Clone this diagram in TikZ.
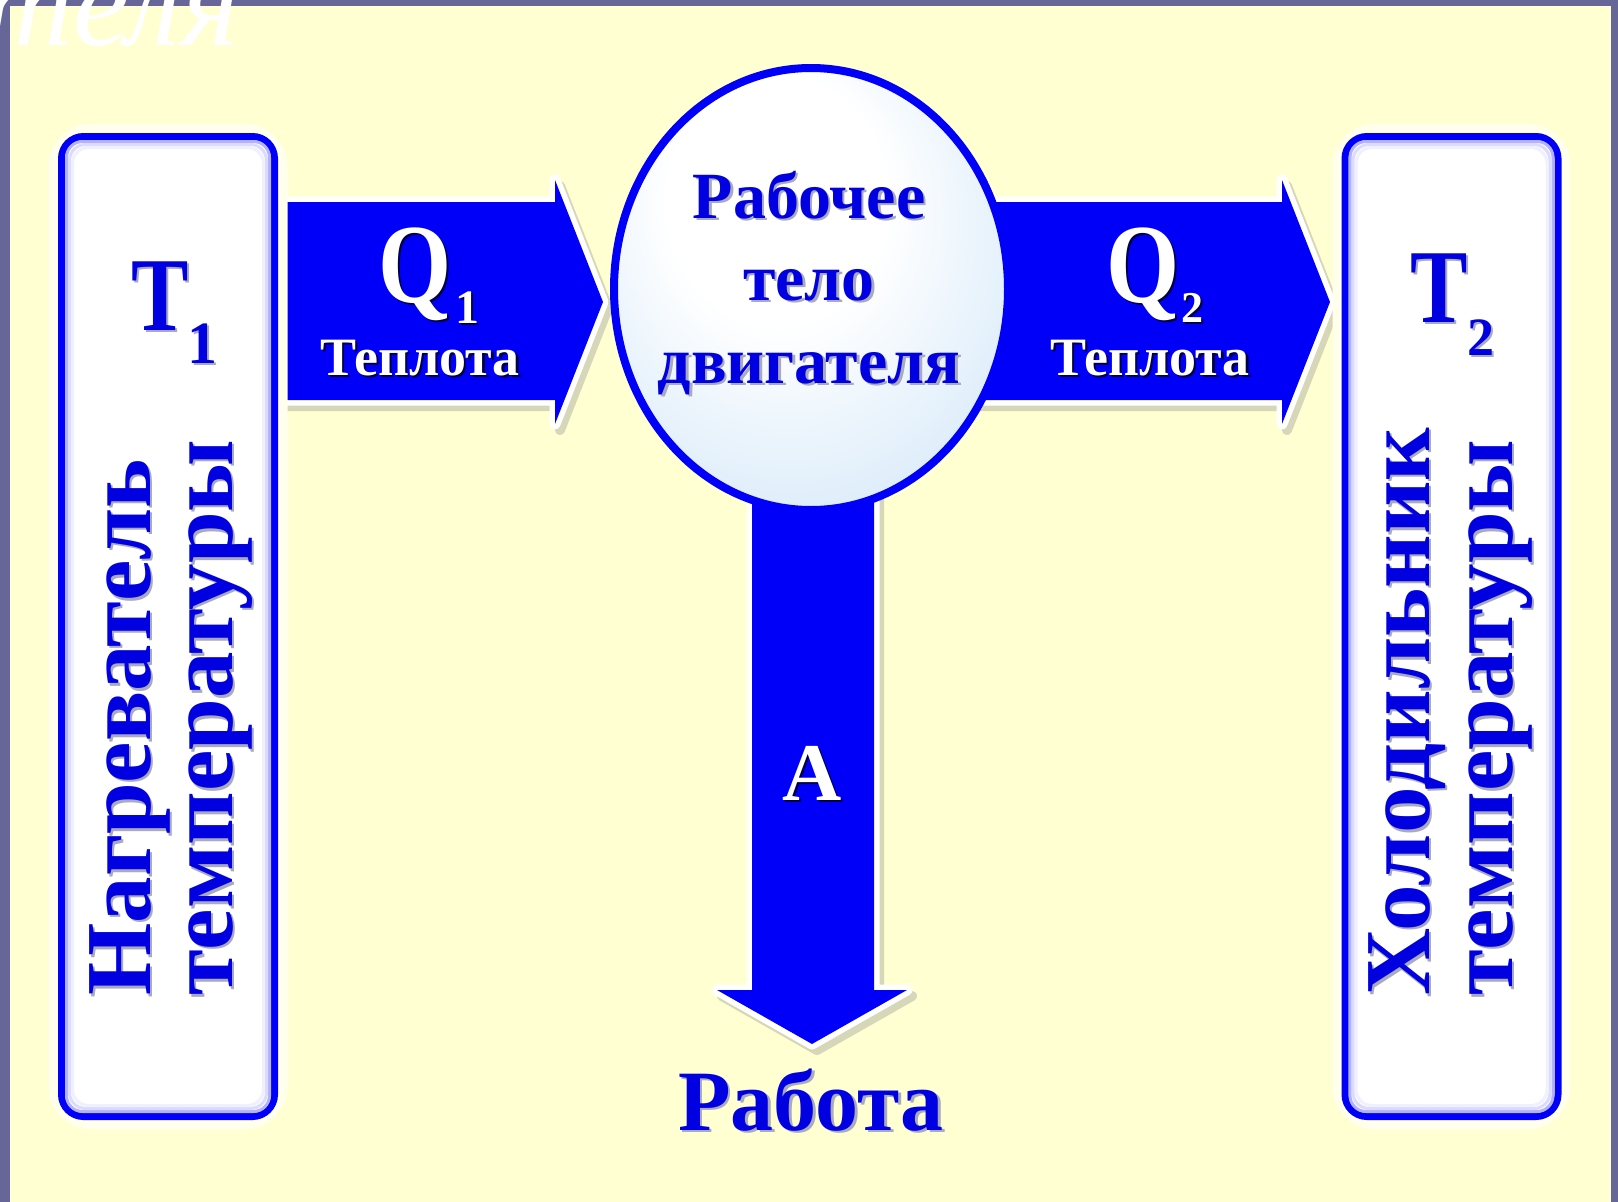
\documentclass[tikz,border=0pt]{standalone}
\usepackage{fontspec}
\setmainfont{Liberation Serif}
\usepackage{graphicx}
\usetikzlibrary{shapes.geometric}
\definecolor{cream}{RGB}{255,255,210}
\definecolor{rimcol}{RGB}{102,102,152}
\definecolor{mblue}{RGB}{0,0,250}
\definecolor{tblue}{RGB}{0,0,225}
\definecolor{shad}{RGB}{214,214,184}
\definecolor{halo}{RGB}{255,255,236}
\definecolor{glassA}{RGB}{212,232,249}
\definecolor{glassB}{RGB}{186,216,243}
\definecolor{tshB}{RGB}{170,170,190}
\definecolor{navyshade}{RGB}{0,0,70}
\pgfdeclareradialshading{glass}{\pgfpoint{-6bp}{14bp}}{color(0bp)=(white); color(14bp)=(white); color(36bp)=(glassA); color(50bp)=(glassB)}
\newcommand{\fsz}[1]{\fontsize{#1}{#1}\selectfont}
% shadowed text node: #1 options, #2 name, #3 position, #4 text, #5 shadow colour
\newcommand{\shnode}[5]{%
  \node[xshift=2.5pt, yshift=-2.5pt, #1, text=#5] (#2-s) at #3 {#4};
  \node[#1] (#2) at #3 {#4};}
\begin{document}
\begin{tikzpicture}[x=1pt,y=-1pt,
  boxst/.style={draw=mblue, line width=7pt, fill=white, rounded corners=22pt,
    minimum width=213pt, minimum height=980pt, inner sep=0pt, outer sep=0pt},
  bt/.style={inner sep=0pt, text=tblue, font={\bfseries\fsz{#1}}},
  wt/.style={inner sep=0pt, text=white, font={\bfseries\fsz{#1}}},
  qonepath/.style={insert path={(262,202) -- (555,202) -- (555,180) -- (603,302) -- (555,424) -- (555,400) -- (262,400) -- cycle}},
  qtwopath/.style={insert path={(940,202) -- (1282,202) -- (1282,180) -- (1330,302) -- (1282,424) -- (1282,400) -- (940,400) -- cycle}},
  apath/.style={insert path={(752,470) -- (874,470) -- (874,990) -- (907,990) -- (812,1044) -- (717,990) -- (752,990) -- cycle}},
]
\useasboundingbox (0,0) rectangle (1618,1202);
\clip (0,0) rectangle (1618,1202);
\fill[cream] (0,0) rectangle (1618,1202);

% arrows: shadow, white rim, blue body
\foreach \p in {qonepath,qtwopath,apath}{
  \filldraw[shad, line width=10pt, line join=round, shift={(5,6)}] [\p];
  \draw[white, line width=11pt, line join=round] [\p];
  \fill[mblue] [\p];
}

% halos round the boxes
\draw[halo, line width=26pt, rounded corners=30pt] (61.5,136.5) rectangle (274.5,1116.5);
\draw[halo, line width=26pt, rounded corners=30pt] (1345.5,136.5) rectangle (1557.5,1116.5);

% boxes
\node[boxst] (hot) at (168,626.5) {};
\node[boxst] (cold) at (1451.5,626.5) {};
\foreach \n in {hot,cold}{
  \foreach \d/\c in {5/30,8/14,11/6}{
    \draw[mblue!\c, line width=3pt, rounded corners=16pt]
      ([shift={(\d,\d)}]\n.north west) rectangle ([shift={(-\d,-\d)}]\n.south east);
  }
}

% working body
\coordinate (wbody) at (811,289);
\path[shading=glass, draw=mblue, line width=8pt] (wbody) ellipse [x radius=197pt, y radius=221pt];

% texts in the boxes
\shnode{bt=93, rotate=90, anchor=base west}{hotA}{(150,996)}{Нагреватель}{tshB}
\shnode{bt=93, rotate=90, anchor=base west}{hotB}{(232,996)}{температуры}{tshB}
\shnode{bt=93, rotate=90, anchor=base west}{coldA}{(1429,996)}{Холодильник}{tshB}
\shnode{bt=93, rotate=90, anchor=base west}{coldB}{(1512,996)}{температуры}{tshB}
\shnode{bt=86, anchor=base west}{tone}{(131,330)}{\scalebox{1}[1.22]{T}}{tshB}
\shnode{bt=60, anchor=base west}{tonesub}{(187,363)}{1}{tshB}
\shnode{bt=86, anchor=base west}{ttwo}{(1410,322)}{\scalebox{1}[1.22]{T}}{tshB}
\shnode{bt=54, anchor=base west}{ttwosub}{(1467,355)}{2}{tshB}

% texts in the body
\shnode{bt=66, anchor=base}{wbA}{(809,218)}{Рабочее}{tshB}
\shnode{bt=66, anchor=base}{wbB}{(809,300)}{тело}{tshB}
\shnode{bt=66, anchor=base}{wbC}{(809,383)}{двигателя}{tshB}

% arrow labels
\shnode{wt=94, anchor=base west}{qone}{(378,302)}{\scalebox{1}[1.2]{Q}}{navyshade}
\shnode{wt=48, anchor=base west}{qonesub}{(455,323)}{1}{navyshade}
\shnode{wt=54, anchor=base}{heatone}{(420,375)}{Теплота}{navyshade}
\shnode{wt=94, anchor=base west}{qtwo}{(1106,302)}{\scalebox{1}[1.2]{Q}}{navyshade}
\shnode{wt=44, anchor=base west}{qtwosub}{(1181,322)}{2}{navyshade}
\shnode{wt=54, anchor=base}{heattwo}{(1150,375)}{Теплота}{navyshade}
\shnode{wt=82, anchor=base}{work}{(812,800)}{A}{navyshade}
\shnode{bt=86, anchor=base}{worklabel}{(811,1130)}{Работа}{tshB}

% frame
\fill[rimcol] (0,0) rectangle (10,1202);
\fill[rimcol] (0,0) rectangle (1618,6);
\fill[rimcol] (1611,0) rectangle (1618,1202);

% cut title
\node[inner sep=0pt, anchor=base east, text=white, font={\itshape\fsz{126}}] (title) at (240,45) {двигателя};
\end{tikzpicture}
\end{document}
